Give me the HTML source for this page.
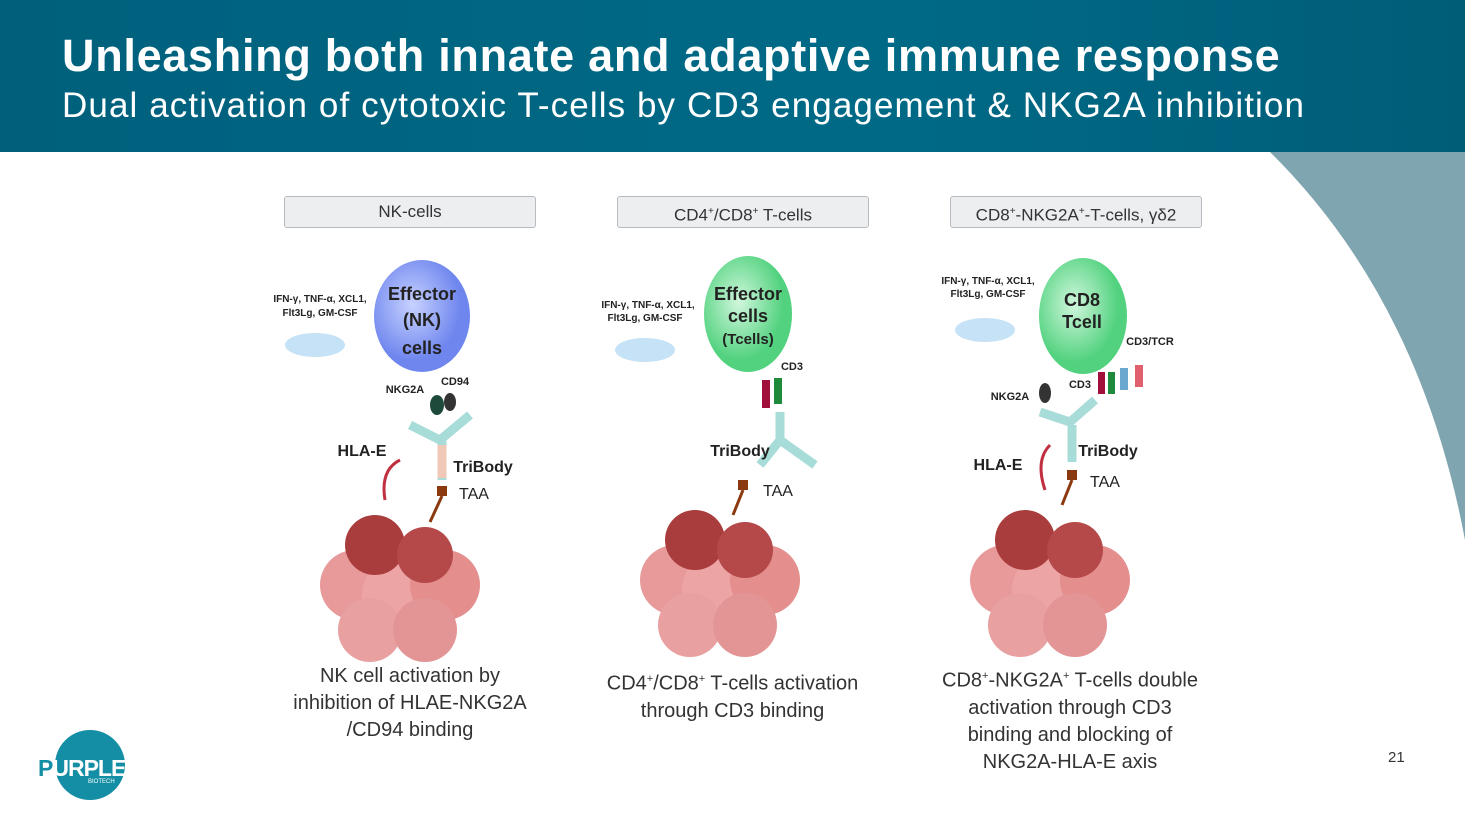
<!DOCTYPE html>
<html><head><meta charset="utf-8"><style>
body{margin:0;width:1465px;height:824px;overflow:hidden;background:#fff;font-family:"Liberation Sans",sans-serif;position:relative}
.hdr{position:absolute;left:0;top:0;width:1465px;height:152px;background:linear-gradient(90deg,#00607c 0%,#006a86 60%,#005d78 100%)}
.t1{position:absolute;left:62px;top:30px;color:#fff;font-weight:bold;font-size:45px;letter-spacing:0.7px;white-space:nowrap}
.t2{position:absolute;left:62px;top:86px;color:#fff;font-size:35px;letter-spacing:1.1px;white-space:nowrap}
.box{position:absolute;top:196px;width:250px;height:30px;background:#eceef0;border:1px solid #b8bcc0;border-radius:3px;text-align:center;line-height:30px;font-size:17px;color:#333}
.cap{position:absolute;text-align:center;font-size:20px;color:#333;line-height:27px}
svg{position:absolute;left:0;top:0}
.s{font-family:"Liberation Sans",sans-serif;font-weight:bold;fill:#222}
</style></head><body>
<svg width="1465" height="824">
<path d="M1270,152 L1465,152 L1465,540 Q1420,300 1270,152Z" fill="#7fa5b0"/>
</svg>
<div class="hdr"></div>
<div class="t1">Unleashing both innate and adaptive immune response</div>
<div class="t2">Dual activation of cytotoxic T-cells by CD3 engagement &amp; NKG2A inhibition</div>
<div class="box" style="left:284px">NK-cells</div>
<div class="box" style="left:617px">CD4<sup style="font-size:10px">+</sup>/CD8<sup style="font-size:10px">+</sup> T-cells</div>
<div class="box" style="left:950px">CD8<sup style="font-size:10px">+</sup>-NKG2A<sup style="font-size:10px">+</sup>-T-cells, γδ2</div>
<svg width="1465" height="824">
<defs>
<radialGradient id="b" cx="0.4" cy="0.4"><stop offset="0" stop-color="#c8d2ff"/><stop offset="1" stop-color="#6f86ee"/></radialGradient>
<radialGradient id="g" cx="0.4" cy="0.4"><stop offset="0" stop-color="#d0f7dc"/><stop offset="1" stop-color="#52d27f"/></radialGradient>
<g id="tum">
<circle cx="-45" cy="10" r="35" fill="#e89a9a"/><circle cx="0" cy="20" r="38" fill="#eca4a4"/><circle cx="45" cy="10" r="35" fill="#e58e8e"/>
<circle cx="-30" cy="55" r="32" fill="#e9a0a0"/><circle cx="25" cy="55" r="32" fill="#e39494"/>
<circle cx="-25" cy="-30" r="30" fill="#a93c3c"/><circle cx="25" cy="-20" r="28" fill="#b54848"/>
</g>
</defs>
<!-- panel 1 -->
<ellipse cx="422" cy="316" rx="48" ry="56" fill="url(#b)"/>
<text class="s" x="422" y="300" font-size="18" text-anchor="middle">Effector</text>
<text class="s" x="422" y="326" font-size="18" text-anchor="middle">(NK)</text>
<text class="s" x="422" y="354" font-size="18" text-anchor="middle">cells</text>
<text class="s" x="320" y="302" font-size="10" text-anchor="middle">IFN-γ, TNF-α, XCL1,</text>
<text class="s" x="320" y="316" font-size="10" text-anchor="middle">Flt3Lg, GM-CSF</text>
<ellipse cx="315" cy="345" rx="30" ry="12" fill="#9ecff0" opacity=".6"/>
<text class="s" x="405" y="393" font-size="11" text-anchor="middle">NKG2A</text><text class="s" x="455" y="385" font-size="11" text-anchor="middle">CD94</text>
<ellipse cx="437" cy="405" rx="7" ry="10" fill="#1d4a3a"/><ellipse cx="450" cy="402" rx="6" ry="9" fill="#333"/>
<path d="M410,425 L440,440 L470,415 M442,440 L442,480" stroke="#a8dcd8" stroke-width="9" fill="none"/>
<path d="M442,445 L442,478" stroke="#f0c8b8" stroke-width="9"/>
<path d="M385,500 Q380,470 400,460" stroke="#c03040" stroke-width="3" fill="none"/>
<text class="s" x="362" y="456" font-size="16" text-anchor="middle">HLA-E</text>
<text class="s" x="483" y="472" font-size="16" text-anchor="middle">TriBody</text>
<text x="474" y="499" font-size="16" text-anchor="middle" fill="#222">TAA</text>
<rect x="437" y="486" width="10" height="10" fill="#8b3a0f"/><path d="M442,496 L430,522" stroke="#8b3a0f" stroke-width="3"/>
<use href="#tum" x="400" y="575"/>
<!-- panel 2 -->
<ellipse cx="748" cy="314" rx="44" ry="58" fill="url(#g)"/>
<text class="s" x="748" y="300" font-size="18" text-anchor="middle">Effector</text>
<text class="s" x="748" y="322" font-size="18" text-anchor="middle">cells</text>
<text class="s" x="748" y="344" font-size="15" text-anchor="middle">(Tcells)</text>
<text class="s" x="648" y="308" font-size="10" text-anchor="middle">IFN-γ, TNF-α, XCL1,</text>
<text class="s" x="645" y="321" font-size="10" text-anchor="middle">Flt3Lg, GM-CSF</text>
<ellipse cx="645" cy="350" rx="30" ry="12" fill="#9ecff0" opacity=".6"/>
<text class="s" x="792" y="370" font-size="11" text-anchor="middle">CD3</text>
<rect x="762" y="380" width="8" height="28" fill="#a0103a"/><rect x="774" y="378" width="8" height="26" fill="#1e8a3a"/>
<path d="M780,412 L780,440 L760,465 M780,440 L815,465" stroke="#a8dcd8" stroke-width="9" fill="none"/>
<text class="s" x="740" y="456" font-size="16" text-anchor="middle">TriBody</text>
<text x="778" y="496" font-size="16" text-anchor="middle" fill="#222">TAA</text>
<rect x="738" y="480" width="10" height="10" fill="#8b3a0f"/><path d="M743,490 L733,515" stroke="#8b3a0f" stroke-width="3"/>
<use href="#tum" x="720" y="570"/>
<!-- panel 3 -->
<ellipse cx="1083" cy="316" rx="44" ry="58" fill="url(#g)"/>
<text class="s" x="1082" y="306" font-size="18" text-anchor="middle">CD8</text>
<text class="s" x="1082" y="328" font-size="18" text-anchor="middle">Tcell</text>
<text class="s" x="988" y="284" font-size="10" text-anchor="middle">IFN-γ, TNF-α, XCL1,</text>
<text class="s" x="988" y="297" font-size="10" text-anchor="middle">Flt3Lg, GM-CSF</text>
<ellipse cx="985" cy="330" rx="30" ry="12" fill="#9ecff0" opacity=".6"/>
<text class="s" x="1150" y="345" font-size="11" text-anchor="middle">CD3/TCR</text>
<text class="s" x="1010" y="400" font-size="11" text-anchor="middle">NKG2A</text><text class="s" x="1080" y="388" font-size="11" text-anchor="middle">CD3</text>
<ellipse cx="1045" cy="393" rx="6" ry="10" fill="#333"/>
<rect x="1098" y="372" width="7" height="22" fill="#a0103a"/><rect x="1108" y="372" width="7" height="22" fill="#1e8a3a"/>
<rect x="1120" y="368" width="8" height="22" fill="#6aa8d0"/><rect x="1135" y="365" width="8" height="22" fill="#e06070"/>
<path d="M1040,412 L1070,422 L1095,400 M1072,425 L1072,462" stroke="#a8dcd8" stroke-width="9" fill="none"/>
<path d="M1045,490 Q1035,460 1050,445" stroke="#c03040" stroke-width="3" fill="none"/>
<text class="s" x="998" y="470" font-size="16" text-anchor="middle">HLA-E</text>
<text class="s" x="1108" y="456" font-size="16" text-anchor="middle">TriBody</text>
<text x="1105" y="487" font-size="16" text-anchor="middle" fill="#222">TAA</text>
<rect x="1067" y="470" width="10" height="10" fill="#8b3a0f"/><path d="M1072,480 L1062,505" stroke="#8b3a0f" stroke-width="3"/>
<use href="#tum" x="1050" y="570"/>
<!-- logo -->
<circle cx="90" cy="765" r="35" fill="#148ea5"/>
<text x="38" y="776" font-size="23" font-weight="bold" font-family="Liberation Sans" letter-spacing="-1"><tspan fill="#148ea5">P</tspan><tspan fill="#fff">URPLE</tspan></text>
<text x="88" y="783" font-size="6" fill="#fff" font-family="Liberation Sans">BIOTECH</text>
</svg>
<div class="cap" style="left:280px;top:663px;width:260px">NK cell activation by<br>inhibition of HLAE-NKG2A<br>/CD94 binding</div>
<div class="cap" style="left:590px;top:666px;width:285px">CD4<sup style="font-size:11px">+</sup>/CD8<sup style="font-size:11px">+</sup> T-cells activation<br>through CD3 binding</div>
<div class="cap" style="left:930px;top:663px;width:280px">CD8<sup style="font-size:11px">+</sup>-NKG2A<sup style="font-size:11px">+</sup> T-cells double<br>activation through CD3<br>binding and blocking of<br>NKG2A-HLA-E axis</div>
<div style="position:absolute;left:1388px;top:749px;font-size:15px;color:#333">21</div>
</body></html>
